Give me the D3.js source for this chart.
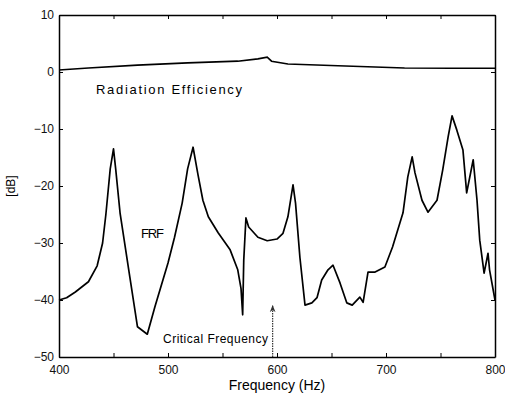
<!DOCTYPE html>
<html>
<head>
<meta charset="utf-8">
<script src="https://cdn.jsdelivr.net/npm/d3@7"></script>
<style>
  body { margin: 0; background: #fff; }
  svg { font-family: "Liberation Sans", Arial, sans-serif; }
</style>
</head>
<body>
<div id="chart"></div>
<script>
// FRF curve (Hz, dB)
const frfFreq = [400, 407, 415, 427, 435, 440, 443, 447, 450, 452, 456, 465, 472, 481, 488, 500,
  506, 513, 518, 523, 527.5, 532, 537, 546, 557, 564, 567, 568.5, 569.5, 571.5, 574, 582.5,
  591, 600, 605.5, 610, 614.7, 617, 621, 625.7, 632, 636.7, 641, 646.8, 651.4, 657.8, 664,
  669, 676, 679, 683.5, 690, 699, 706, 715.6, 720, 724, 726.6, 733, 738.5, 746.8, 752, 757,
  760.6, 765, 770.6, 774, 780, 783.5, 786, 790, 793.6, 795, 800];
const frfDb = [-40, -39.6, -38.6, -36.8, -34, -30, -25, -17, -13.5, -17, -24.7, -36, -44.7, -46, -41.2, -33.5,
  -29, -23, -17, -13.2, -18, -22.5, -25.4, -28.2, -31.2, -34.7, -38, -42.6, -33, -25.6, -27.2, -29,
  -29.6, -29.3, -28.3, -25.4, -19.8, -23, -32.5, -40.9, -40.5, -39.6, -36.5, -34.7, -33.9, -37, -40.5,
  -40.9, -39.5, -40.4, -35.1, -35.1, -34.2, -30.7, -24.7, -18.4, -14.9, -17.7, -22.5, -24.6, -22.5, -17.2, -11.4,
  -7.7, -10.2, -13.7, -21.2, -15.4, -22.5, -29.5, -35.3, -31.8, -34.7, -40];

// Radiation efficiency curve
const radFreq = [400, 427, 472, 518, 564, 582.5, 591, 595, 610, 656, 717, 760, 800];
const radDb = [0.35, 0.7, 1.2, 1.6, 1.9, 2.3, 2.6, 1.9, 1.4, 1.1, 0.7, 0.65, 0.65];

const xTicks = [400, 500, 600, 700, 800];
const xMinorTicks = [450, 550, 650, 750];
const yTicks = [10, 0, -10, -20, -30, -40, -50];
const criticalFreq = 596;

const width = 505;
const height = 397;
const margin = { left: 59, right: 10, top: 15, bottom: 40 };

const svg = d3.select('#chart')
  .append('svg')
  .attr('width', width)
  .attr('height', height);

const x = d3.scaleLinear().domain([400, 800]).range([margin.left, width - margin.right]);
const y = d3.scaleLinear().domain([-50, 10]).range([height - margin.bottom, margin.top]);

svg.append('defs').append('marker')
  .attr('id', 'arrow')
  .attr('viewBox', '0 0 10 10')
  .attr('refX', 9)
  .attr('refY', 5)
  .attr('markerWidth', 6)
  .attr('markerHeight', 7)
  .attr('orient', 'auto')
  .append('path')
  .attr('d', 'M0,1 L10,5 L0,9 L3,5 Z')
  .attr('fill', '#333');

// plot area
svg.append('rect')
  .attr('x', x(400)).attr('y', y(10))
  .attr('width', x(800) - x(400)).attr('height', y(-50) - y(10))
  .attr('fill', '#fff');

// axes with inward ticks (matlab style)
const allX = xTicks.concat(xMinorTicks);
const bottom = svg.append('g')
  .attr('transform', `translate(0,${y(-50)})`)
  .call(d3.axisBottom(x).tickValues(allX).tickSizeInner(-4).tickSizeOuter(0)
    .tickFormat((d) => (xTicks.includes(d) ? d : '')));
bottom.selectAll('text').attr('dy', '0.95em').attr('y', 6);

svg.append('g')
  .attr('transform', `translate(0,${y(10)})`)
  .call(d3.axisTop(x).tickValues(allX).tickSizeInner(-4).tickSizeOuter(0).tickFormat(''));

const left = svg.append('g')
  .attr('transform', `translate(${x(400)},0)`)
  .call(d3.axisLeft(y).tickValues(yTicks).tickSizeInner(-4).tickSizeOuter(0));
left.selectAll('text').attr('x', -5);

svg.append('g')
  .attr('transform', `translate(${x(800)},0)`)
  .call(d3.axisRight(y).tickValues(yTicks).tickSizeInner(-4).tickSizeOuter(0).tickFormat(''));

svg.selectAll('.domain').attr('stroke', '#000').attr('stroke-width', 1.5);
svg.selectAll('.tick line').attr('stroke', '#000');
svg.selectAll('.tick text').style('font-size', '12px').attr('fill', '#111');

const line = d3.line().x((d) => x(d[0])).y((d) => y(d[1]));

svg.append('path')
  .datum(radFreq.map((f, i) => [f, radDb[i]]))
  .attr('d', line)
  .attr('fill', 'none')
  .attr('stroke', '#000')
  .attr('stroke-width', 1.6);

svg.append('path')
  .datum(frfFreq.map((f, i) => [f, frfDb[i]]))
  .attr('d', line)
  .attr('fill', 'none')
  .attr('stroke', '#000')
  .attr('stroke-width', 1.7)
  .attr('stroke-linejoin', 'round');

// critical frequency arrow
svg.append('line')
  .attr('x1', x(criticalFreq)).attr('x2', x(criticalFreq))
  .attr('y1', y(-50)).attr('y2', y(-41))
  .attr('stroke', '#333')
  .attr('stroke-width', 1.2)
  .attr('stroke-dasharray', '1.5,1')
  .attr('marker-end', 'url(#arrow)');

// annotations
svg.append('text')
  .attr('x', 96).attr('y', 94)
  .attr('textLength', 146)
  .style('font-size', '13px')
  .text('Radiation Efficiency');

svg.append('text')
  .attr('x', 141).attr('y', 238)
  .attr('textLength', 23)
  .style('font-size', '13px')
  .text('FRF');

svg.append('text')
  .attr('x', 163).attr('y', 343)
  .attr('textLength', 105)
  .style('font-size', '12px')
  .text('Critical Frequency');

// axis labels
svg.append('text')
  .attr('x', x(600)).attr('y', 390)
  .attr('text-anchor', 'middle')
  .style('font-size', '14px')
  .text('Frequency (Hz)');

svg.append('text')
  .attr('transform', `translate(15,${y(-20)}) rotate(-90)`)
  .attr('text-anchor', 'middle')
  .style('font-size', '12px')
  .text('[dB]');
</script>
</body>
</html>
